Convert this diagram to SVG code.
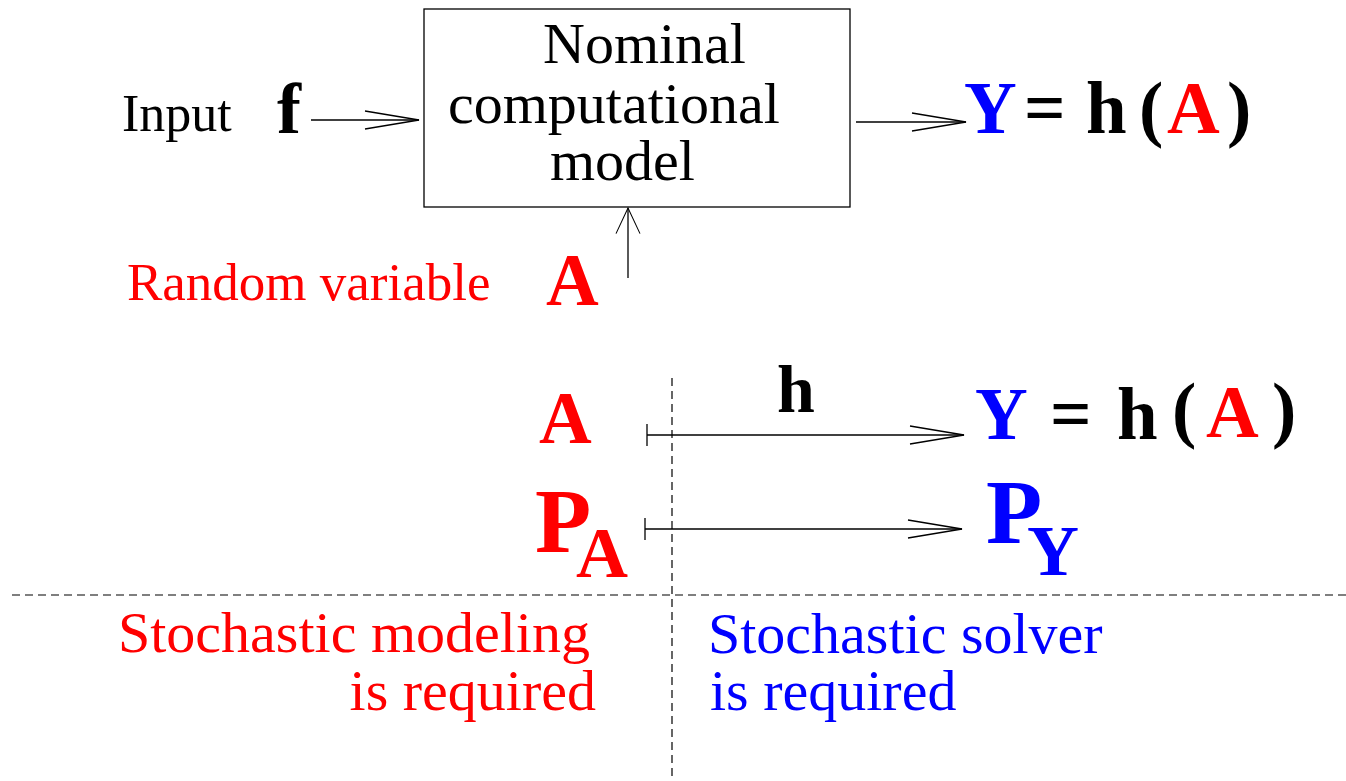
<svg xmlns="http://www.w3.org/2000/svg" width="1346" height="781" viewBox="0 0 1346 781">
<style>
.t{font-family:"Liberation Serif","Times New Roman",serif;}
.b{font-family:"Liberation Serif","Times New Roman",serif;font-weight:bold;}
.red{fill:#ff0000;}
.blue{fill:#0000ff;}
.blk{fill:#000;}
.ln{stroke:#000;stroke-width:1.3;fill:none;}
.dash{stroke:#000;stroke-width:1.2;fill:none;stroke-dasharray:8 5;}
</style>
<defs>
<marker id="ah" markerUnits="userSpaceOnUse" orient="auto" markerWidth="70" markerHeight="30" viewBox="-60 -15 70 30" refX="0" refY="0" overflow="visible">
<path d="M-54,-9 L0,0 L-54,9" stroke="#000" stroke-width="1.3" fill="none"/>
</marker>
<marker id="av" markerUnits="userSpaceOnUse" orient="auto" markerWidth="40" markerHeight="40" viewBox="-40 -20 50 40" refX="0" refY="0" overflow="visible">
<path d="M-32,-15 L0,0 L-32,15" stroke="#000" stroke-width="1.3" fill="none"/>
</marker>
<marker id="bar" markerUnits="userSpaceOnUse" orient="auto" markerWidth="10" markerHeight="30" viewBox="-5 -15 10 30" refX="0" refY="0" overflow="visible">
<path d="M0,-11 L0,11" stroke="#000" stroke-width="1.3" fill="none"/>
</marker>
</defs>

<g id="model">
<rect x="424" y="9" width="426" height="198" class="ln"/>
<text class="t blk" font-size="58" x="543" y="63">Nominal</text>
<text class="t blk" font-size="58" x="448" y="123">computational</text>
<text class="t blk" font-size="58" x="550" y="180">model</text>
</g>

<g id="input">
<text class="t blk" font-size="52" x="122" y="131">Input</text>
<text class="b blk" font-size="72" x="277" y="133">f</text>
</g>

<g id="random-variable">
<text class="t red" font-size="53" x="127" y="300">Random variable</text>
<text class="b red" font-size="73" x="546" y="305">A</text>
</g>

<g id="output-top">
<text class="b blue" font-size="73" x="964" y="133">Y</text>
<text class="b blk" font-size="73" x="1024" y="133">=</text>
<text class="b blk" font-size="73" x="1086" y="133">h</text>
<text class="b blk" font-size="73" x="1139" y="133">(</text>
<text class="b red" font-size="73" x="1167" y="133">A</text>
<text class="b blk" font-size="73" x="1227" y="133">)</text>
</g>

<g id="a-lower">
<text class="b red" font-size="73" x="539" y="443">A</text>
</g>

<g id="h-label">
<text class="b blk" font-size="68" x="777" y="412">h</text>
</g>

<g id="output-lower">
<text class="b blue" font-size="73" x="975" y="439">Y</text>
<text class="b blk" font-size="73" x="1050" y="439">=</text>
<text class="b blk" font-size="73" x="1117" y="439">h</text>
<text class="b blk" font-size="73" x="1172" y="434">(</text>
<text class="b red" font-size="73" x="1206" y="437">A</text>
<text class="b blk" font-size="73" x="1272" y="434">)</text>
</g>

<g id="pa">
<text class="b red" font-size="92" x="535" y="552">P</text>
<text class="b red" font-size="72" x="576" y="577">A</text>
</g>

<g id="py">
<text class="b blue" font-size="92" x="986" y="543">P</text>
<text class="b blue" font-size="72" x="1027" y="575">Y</text>
</g>

<g id="modeling-label">
<text class="t red" font-size="58" x="118" y="652">Stochastic modeling</text>
<text class="t red" font-size="58" x="596" y="710" text-anchor="end">is required</text>
</g>

<g id="solver-label">
<text class="t blue" font-size="58" x="708" y="653">Stochastic solver</text>
<text class="t blue" font-size="58" x="710" y="710">is required</text>
</g>

<g id="connectors">
<line x1="311" y1="120" x2="419" y2="120" class="ln" marker-end="url(#ah)"/>
<line x1="856" y1="122" x2="966" y2="122" class="ln" marker-end="url(#ah)"/>
<line x1="628" y1="278" x2="628" y2="208" class="ln" marker-end="url(#av)"/>
<line x1="647" y1="435" x2="964" y2="435" class="ln" marker-start="url(#bar)" marker-end="url(#ah)"/>
<line x1="645" y1="529" x2="962" y2="529" class="ln" marker-start="url(#bar)" marker-end="url(#ah)"/>
<line x1="672" y1="378" x2="672" y2="781" class="dash"/>
<line x1="12" y1="595" x2="1346" y2="595" class="dash"/>
</g>
</svg>
